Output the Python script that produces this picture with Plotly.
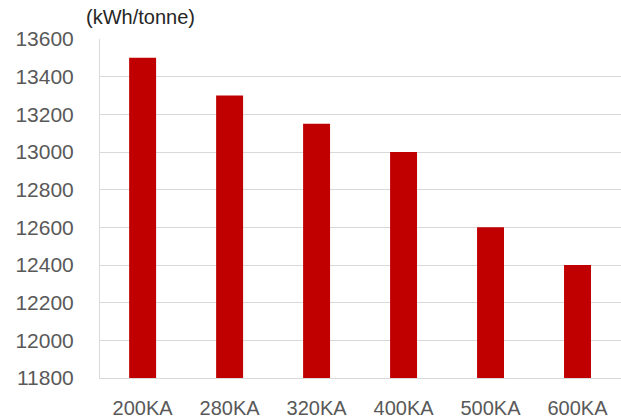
import plotly.graph_objects as go

categories = ["200KA", "280KA", "320KA", "400KA", "500KA", "600KA"]
values = [13500, 13300, 13150, 13000, 12600, 12400]
y_ticks = [11800, 12000, 12200, 12400, 12600, 12800, 13000, 13200, 13400, 13600]
unit_label = "(kWh/tonne)"

fig = go.Figure()
fig.add_trace(go.Bar(x=categories, y=values, marker_color="#C00000", marker_line_width=0))

fig.update_layout(
    width=621, height=419,
    margin=dict(l=100, r=0, t=39, b=41),
    paper_bgcolor="white", plot_bgcolor="white",
    bargap=0.69, showlegend=False,
    font=dict(family="Liberation Sans, Arial", color="#595959"),
)
fig.update_xaxes(
    range=[-0.49, 5.5], showgrid=False, showline=True, linecolor="#d9d9d9", linewidth=1,
    tickfont=dict(size=20, color="#595959"), ticks="", ticklabelstandoff=12,
)
fig.update_yaxes(
    range=[11800, 13600], tickvals=y_ticks, tickformat="d", showgrid=True,
    gridcolor="#d9d9d9", gridwidth=1,
    showline=True, linecolor="#d9d9d9", linewidth=1, zeroline=False,
    tickfont=dict(size=21, color="#595959"), ticks="", ticklabelstandoff=21,
)
fig.add_annotation(
    text=unit_label, xref="paper", yref="paper", x=-0.03, y=1 + 22 / 339,
    xanchor="left", yanchor="middle", showarrow=False,
    font=dict(size=20, color="#262626", family="Liberation Sans, Arial"),
)
fig.write_html("out.html")
